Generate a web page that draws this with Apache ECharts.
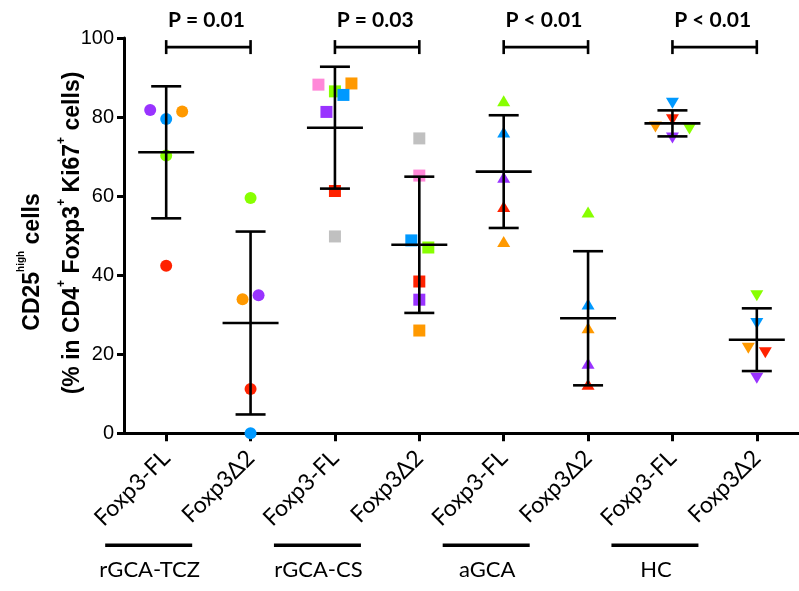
<!DOCTYPE html>
<html>
<head>
<meta charset="utf-8">
<script src="https://cdn.jsdelivr.net/npm/echarts@6/dist/echarts.min.js"></script>
<style>html,body{margin:0;padding:0;background:#fff;}#c{width:799px;height:591px;}</style>
</head>
<body>
<div id="c"></div>
<script>
// ---- data ----
const categories = ['Foxp3-FL', 'Foxp3Δ2', 'Foxp3-FL', 'Foxp3Δ2', 'Foxp3-FL', 'Foxp3Δ2', 'Foxp3-FL', 'Foxp3Δ2'];
const groups = ['rGCA-TCZ', 'rGCA-CS', 'aGCA', 'HC'];
const pLabels = ['P = 0.01', 'P = 0.03', 'P < 0.01', 'P < 0.01'];
const yTicks = [0, 20, 40, 60, 80, 100];

// values per subject (same subject order within a group for FL and Δ2)
const tczFL = [81.8, 79.5, 81.4, 70.3, 42.4];
const tczD2 = [34.9, 0.0, 33.9, 59.5, 11.2];
const csFL = [88.2, 88.5, 86.5, 85.6, 81.3, 61.3, 49.8];
const csD2 = [65.2, 26.0, 47.0, 48.8, 33.8, 38.4, 74.6];
const agcaFL = [84.1, 76.2, 64.8, 57.4, 48.5];
const agcaD2 = [56.0, 32.7, 17.7, 12.4, 26.7];
const hcFL = [83.5, 79.3, 77.5, 77.0, 74.7];
const hcD2 = [27.8, 20.4, 21.5, 34.8, 13.9];

// ---- styles ----
const C = {purple: '#9933FF', blue: '#0099FF', orange: '#FF9900', green: '#88FF00', red: '#FF2200', pink: '#FF88D8', grey: '#C0C0C0'};
const tczColors = [C.purple, C.blue, C.orange, C.green, C.red];
const csColors = [C.pink, C.orange, C.green, C.blue, C.purple, C.red, C.grey];
const agcaColors = [C.green, C.blue, C.purple, C.red, C.orange];
const hcColors = [C.blue, C.red, C.orange, C.green, C.purple];
// horizontal jitter in pixels (visual only)
const jitter = [
  [-16, 0, 16, 0, 0], [8, 0, -8, 0, 0],
  [-16.5, 16.5, 0, 8.5, -8.5, 0, 0], [0, 0, 9, -8, 0, 0, 0],
  [0, 0, 0, 0, 0], [0, 0, 0, 0, 0],
  [0, 0, -17, 17, 0], [0, 8.5, -8.5, 0, 0]
];
const columns = [tczFL, tczD2, csFL, csD2, agcaFL, agcaD2, hcFL, hcD2];
const colColors = [tczColors, tczColors, csColors, csColors, agcaColors, agcaColors, hcColors, hcColors];
const colSymbols = ['circle', 'circle', 'rect', 'rect', 'triangle', 'triangle', 'triangle', 'triangle'];
const colRotate = [0, 0, 0, 0, 0, 0, 180, 180];
const colSize = [12, 12, 12, 12, [13, 11], [13, 11], [13, 11], [13, 11]];

function meanSd(a) {
  const m = a.reduce((s, v) => s + v, 0) / a.length;
  const sd = Math.sqrt(a.reduce((s, v) => s + (v - m) * (v - m), 0) / (a.length - 1));
  return [m, sd];
}

const scatterSeries = columns.map((vals, ci) => ({
  type: 'scatter',
  name: categories[ci],
  symbol: colSymbols[ci],
  symbolRotate: colRotate[ci],
  symbolSize: colSize[ci],
  z: 2,
  data: vals.map((v, k) => ({
    value: [ci, v],
    itemStyle: {color: colColors[ci][k], opacity: 1},
    symbolOffset: [jitter[ci][k], 0]
  }))
}));

const errData = columns.map((vals, ci) => {
  const [m, sd] = meanSd(vals);
  return [ci, m, m - sd, m + sd];
});

const LW = 2.6;
const black = '#000';
const errSeries = {
  type: 'custom',
  z: 10,
  clip: false,
  encode: {x: 0, y: [1, 2, 3]},
  data: errData,
  renderItem: function (params, api) {
    const x = api.value(0);
    const pm = api.coord([x, api.value(1)]);
    const pl = api.coord([x, api.value(2)]);
    const ph = api.coord([x, api.value(3)]);
    const st = {stroke: black, lineWidth: LW};
    return {
      type: 'group',
      children: [
        {type: 'line', shape: {x1: pm[0], y1: pl[1], x2: pm[0], y2: ph[1]}, style: st},
        {type: 'line', shape: {x1: pm[0] - 15, y1: pl[1], x2: pm[0] + 15, y2: pl[1]}, style: st},
        {type: 'line', shape: {x1: pm[0] - 15, y1: ph[1], x2: pm[0] + 15, y2: ph[1]}, style: st},
        {type: 'line', shape: {x1: pm[0] - 28, y1: pm[1], x2: pm[0] + 28, y2: pm[1]}, style: st}
      ]
    };
  }
};

const annSeries = {
  type: 'custom',
  z: 10,
  clip: false,
  silent: true,
  encode: {x: 0, y: 1},
  data: groups.map((g, i) => [2 * i, 97.7, 2 * i + 1]),
  renderItem: function (params, api) {
    const i = params.dataIndex;
    const p1 = api.coord([api.value(0), api.value(1)]);
    const p2 = api.coord([api.value(2), api.value(1)]);
    const base = api.coord([api.value(0), 0]);
    const st = {stroke: black, lineWidth: LW};
    const gx = p1[0] - 17.5;
    return {
      type: 'group',
      children: [
        {type: 'line', shape: {x1: p1[0], y1: p1[1], x2: p2[0], y2: p2[1]}, style: st},
        {type: 'line', shape: {x1: p1[0], y1: p1[1] - 7, x2: p1[0], y2: p1[1] + 7}, style: st},
        {type: 'line', shape: {x1: p2[0], y1: p2[1] - 7, x2: p2[0], y2: p2[1] + 7}, style: st},
        {type: 'text', style: {x: (p1[0] + p2[0]) / 2 - 2, y: p1[1] - 27, text: pLabels[i], fill: black,
          fontFamily: 'Lato', fontWeight: 'bold', fontSize: 21, align: 'center', verticalAlign: 'middle'}},
        {type: 'line', shape: {x1: gx - 43.5, y1: base[1] + 112, x2: gx + 43.5, y2: base[1] + 112},
          style: {stroke: black, lineWidth: 3.5}},
        {type: 'text', style: {x: gx + 1, y: base[1] + 137, text: groups[i], fill: black,
          fontFamily: 'Lato', fontSize: 22, align: 'center', verticalAlign: 'middle'}}
      ]
    };
  }
};

const chart = echarts.init(document.getElementById('c'), null, {renderer: 'canvas'});
chart.setOption({
  animation: false,
  backgroundColor: '#fff',
  grid: {left: 124, top: 38, width: 678.5, height: 395.3},
  xAxis: {
    type: 'category',
    data: categories,
    boundaryGap: true,
    axisLine: {show: true, lineStyle: {color: black, width: 3}},
    axisTick: {show: true, alignWithLabel: true, length: 8, lineStyle: {color: black, width: 3}},
    axisLabel: {interval: 0, rotate: 45, margin: 21, fontSize: 23, fontFamily: 'Lato', color: black},
    splitLine: {show: false}
  },
  yAxis: {
    type: 'value',
    min: yTicks[0],
    max: yTicks[yTicks.length - 1],
    interval: 20,
    axisLine: {show: true, lineStyle: {color: black, width: 3}},
    axisTick: {show: true, length: 7, lineStyle: {color: black, width: 3}},
    axisLabel: {margin: 10, fontSize: 20, fontFamily: "'Liberation Sans Narrow', 'Liberation Sans', sans-serif", color: black},
    splitLine: {show: false}
  },
  graphic: [
    {type: 'text', x: 33, y: 262, rotation: Math.PI / 2, silent: true,
      style: {text: 'CD25{sup|high} cells', fill: black, fontFamily: 'Liberation Sans', fontWeight: 'bold', fontSize: 23,
        lineHeight: 34, align: 'center', verticalAlign: 'middle',
        rich: {sup: {fontSize: 10, fontWeight: 'bold', fontFamily: 'Liberation Sans', verticalAlign: 'top', lineHeight: 10}}}},
    {type: 'text', x: 73, y: 233, rotation: Math.PI / 2, silent: true,
      style: {text: '(% in CD4{sup|+} Foxp3{sup|+} Ki67{sup|+} cells)', fill: black, fontFamily: 'Liberation Sans', fontWeight: 'bold', fontSize: 23,
        lineHeight: 34, align: 'center', verticalAlign: 'middle',
        rich: {sup: {fontSize: 12, fontWeight: 'bold', fontFamily: 'Liberation Sans', verticalAlign: 'top', lineHeight: 12}}}}
  ],
  series: scatterSeries.concat([errSeries, annSeries])
});
</script>
</body>
</html>
